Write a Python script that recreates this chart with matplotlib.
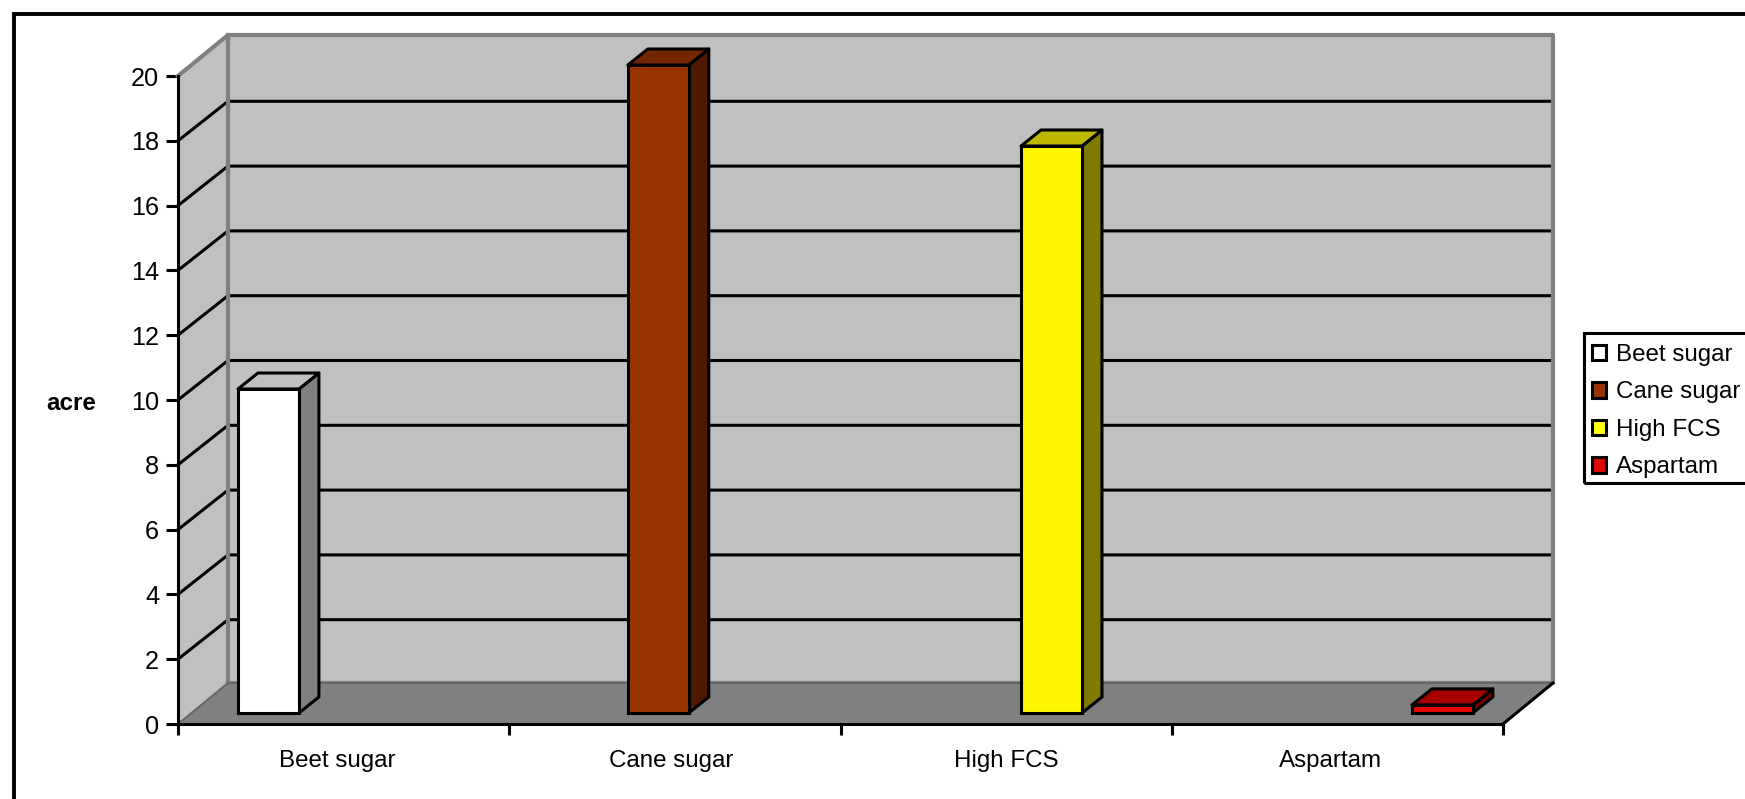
import matplotlib
matplotlib.use('Agg')
import matplotlib.pyplot as plt
from matplotlib.patches import Patch, Polygon, Rectangle
from matplotlib.transforms import IdentityTransform

plt.rcParams['font.family'] = ['Liberation Sans', 'DejaVu Sans']

categories = ['Beet sugar', 'Cane sugar', 'High FCS', 'Aspartam']
values = [10, 20, 17.5, 0.25]
y_ticks = [0, 2, 4, 6, 8, 10, 12, 14, 16, 18, 20]

front_colors = ['#ffffff', '#993300', '#fff500', '#e60505']
top_colors = ['#c0c0c0', '#732600', '#c0b800', '#a80000']
side_colors = ['#808080', '#4d1a00', '#807b00', '#730000']
legend_colors = ['#ffffff', '#993300', '#ffff00', '#dd0808']

W, H = 1745, 799
lw = 2.2

fig = plt.figure(figsize=(W / 100, H / 100), dpi=100)
ax = fig.add_axes([178 / W, (H - 724) / H, 1325 / W, 648 / H])
ax.set_xlim(0, 4)
ax.set_ylim(0, 20)
ax.patch.set_visible(False)

# pixels to data units, for the fake 3d offsets
ux = 4 / 1325
uy = 20 / 648
wall_dx, wall_dy = 50 * ux, 41 * uy
grid_dy = 39.5 * uy
bar_dx, bar_dy = 20 * ux, 16 * uy
bar_lift = 11 * uy
bar_left = [0.181, 1.358, 2.545, 3.725]
bar_width = 0.184

# walls and floor
ax.add_patch(Polygon([(0, 0), (wall_dx, wall_dy), (wall_dx, 20 + wall_dy), (0, 20)],
                     fc='#c0c0c0', ec='none', clip_on=False, zorder=1))
ax.add_patch(Rectangle((wall_dx, wall_dy), 4, 20, fc='#c0c0c0', ec='none', clip_on=False, zorder=1))
ax.add_patch(Polygon([(0, 0), (4, 0), (4 + wall_dx, wall_dy), (wall_dx, wall_dy)],
                     fc='#808080', ec='none', clip_on=False, zorder=1))

for v in y_ticks[1:-1]:
    ax.plot([0, wall_dx, 4 + wall_dx], [v, v + grid_dy, v + grid_dy], color='black', lw=lw,
            clip_on=False, zorder=2, solid_joinstyle='miter')

# gray outline of the walls
ax.plot([0, wall_dx, wall_dx], [20, 20 + wall_dy, wall_dy], color='#808080', lw=3, clip_on=False, zorder=3)
ax.plot([wall_dx, 4 + wall_dx, 4 + wall_dx, wall_dx], [20 + wall_dy, 20 + wall_dy, wall_dy, wall_dy],
        color='#808080', lw=3, clip_on=False, zorder=3)
ax.plot([0, wall_dx, 4 + wall_dx], [0, wall_dy, wall_dy], color='#666666', lw=1.4, clip_on=False, zorder=3)
ax.plot([4, 4 + wall_dx], [0, wall_dy], color='black', lw=lw, clip_on=False, zorder=3)

# bars
ax.bar(bar_left, values, width=bar_width, bottom=bar_lift, align='edge', color=front_colors,
       edgecolor='black', linewidth=lw, clip_on=False, zorder=6)
for x, v, tc, sc in zip(bar_left, values, top_colors, side_colors):
    x1 = x + bar_width
    y0 = bar_lift
    y1 = bar_lift + v
    ax.add_patch(Polygon([(x1, y0), (x1 + bar_dx, y0 + bar_dy), (x1 + bar_dx, y1 + bar_dy), (x1, y1)],
                         fc=sc, ec='black', lw=lw, clip_on=False, zorder=5, joinstyle='round'))
    ax.add_patch(Polygon([(x, y1), (x + bar_dx, y1 + bar_dy), (x1 + bar_dx, y1 + bar_dy), (x1, y1)],
                         fc=tc, ec='black', lw=lw, clip_on=False, zorder=5, joinstyle='round'))

# axes
for s in ['top', 'right']:
    ax.spines[s].set_visible(False)
for s in ['left', 'bottom']:
    ax.spines[s].set_linewidth(lw)
    ax.spines[s].set_zorder(4)
ax.set_yticks(y_ticks)
ax.tick_params(axis='y', length=8.6, width=lw, pad=5, labelsize=18.2)
ax.set_xticks([0, 1, 2, 3, 4])
ax.set_xticklabels([])
ax.tick_params(axis='x', which='major', length=8, width=lw)
ax.set_xticks([0.48, 1.49, 2.5, 3.48], minor=True)
ax.set_xticklabels(categories, minor=True, fontsize=17.4)
ax.tick_params(axis='x', which='minor', length=0, pad=18.5)

fig.text(71 / W, 1 - 404 / H, 'acre', fontsize=17.4, fontweight='bold', ha='center', va='center')

# legend, box drawn apart because the text sits low inside it
handles = [Patch(fc=c, ec='black', lw=lw) for c in legend_colors]
leg = ax.legend(handles, categories, loc='upper left', bbox_to_anchor=(1584, H - 336),
                bbox_transform=IdentityTransform(), borderaxespad=0, fontsize=17.4,
                handlelength=0.6, handleheight=0.6, handletextpad=0.38, labelspacing=0.64,
                borderpad=0.33, frameon=False)
fig.add_artist(Rectangle((1584, H - 483), 300, 150, transform=IdentityTransform(),
                         fc='none', ec='black', lw=lw))

# outer frame, runs off the right and bottom of the picture
fig.add_artist(Rectangle((13.5 / W, -0.1), 1.2, 1.1 - 13.5 / H, transform=fig.transFigure,
                         fc='none', ec='black', lw=2.8))

fig.savefig('out.png', dpi=100)
